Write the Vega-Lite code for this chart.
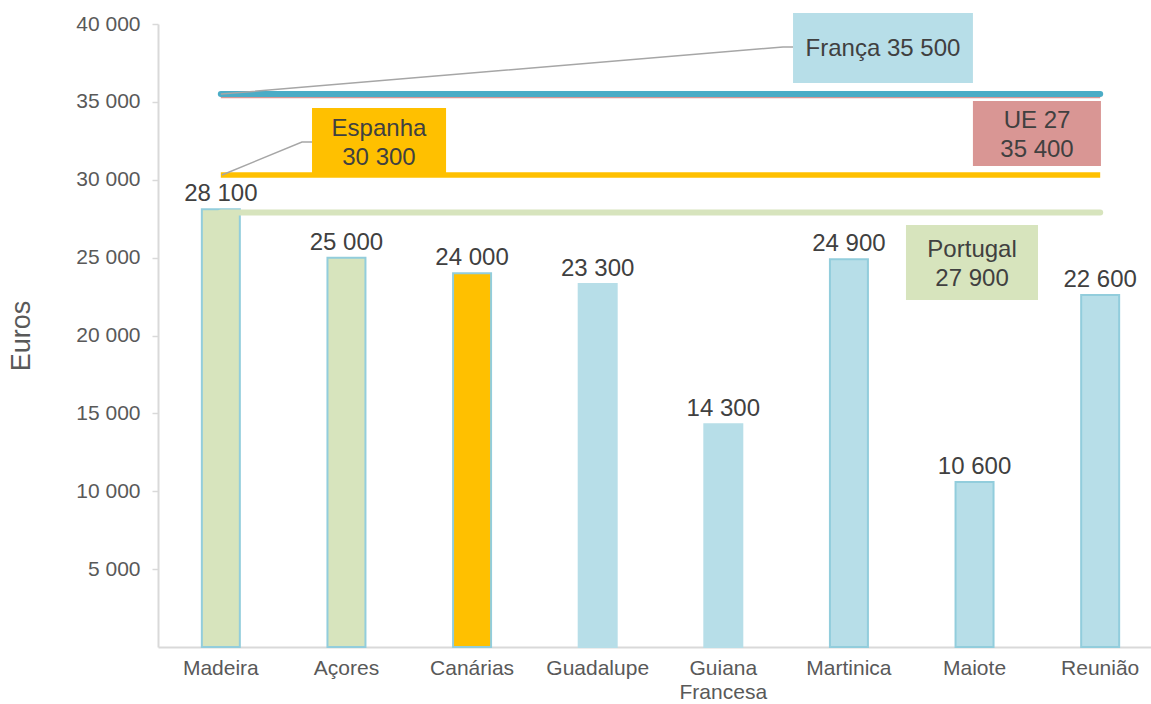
{
  "$schema": "https://vega.github.io/schema/vega-lite/v6.json",
  "width": 990,
  "height": 623,
  "autosize": "none",
  "padding": {"left": 158, "top": 24, "right": 3, "bottom": 57},
  "config": {
    "view": {"stroke": null},
    "font": "Liberation Sans",
    "locale": {"number": {"decimal": ",", "thousands": " ", "grouping": [3], "currency": ["", " €"]}}
  },
  "datasets": {
    "bars": [
      {"regiao": "Madeira", "pais": "Portugal", "valor": 28100},
      {"regiao": "Açores", "pais": "Portugal", "valor": 25000},
      {"regiao": "Canárias", "pais": "Espanha", "valor": 24000},
      {"regiao": "Guadalupe", "pais": "França", "valor": 23300},
      {"regiao": "Guiana Francesa", "pais": "França", "valor": 14300},
      {"regiao": "Martinica", "pais": "França", "valor": 24900},
      {"regiao": "Maiote", "pais": "França", "valor": 10600},
      {"regiao": "Reunião", "pais": "França", "valor": 22600}
    ],
    "refs": [
      {"nome": "UE 27", "valor": 35400, "inicio": 0.5, "fim": 7.5},
      {"nome": "França", "valor": 35500, "inicio": 0.5, "fim": 7.5},
      {"nome": "Espanha", "valor": 30300, "inicio": 0.5, "fim": 7.5},
      {"nome": "Portugal", "valor": 27900, "inicio": 0.5, "fim": 7.5}
    ],
    "caixas": [
      {"nome": "França", "x0": 5.055, "x1": 6.487, "y0": 36212, "y1": 40706, "cx": 5.771, "cy": 38400, "texto": "França 35 500"},
      {"nome": "UE 27", "x0": 6.487, "x1": 7.506, "y0": 30883, "y1": 35056, "cx": 6.997, "cy": 33772, "texto": "UE 27\n35 400"},
      {"nome": "Espanha", "x0": 1.226, "x1": 2.293, "y0": 30241, "y1": 34607, "cx": 1.759, "cy": 33258, "texto": "Espanha\n30 300"},
      {"nome": "Portugal", "x0": 5.954, "x1": 7.005, "y0": 22279, "y1": 27095, "cx": 6.48, "cy": 25490, "texto": "Portugal\n27 900"}
    ],
    "guias": [
      {"grupo": "França", "ordem": 1, "x": 0.5, "y": 35500},
      {"grupo": "França", "ordem": 2, "x": 4.975, "y": 38523},
      {"grupo": "França", "ordem": 3, "x": 5.055, "y": 38523},
      {"grupo": "Espanha", "ordem": 1, "x": 0.509, "y": 30305},
      {"grupo": "Espanha", "ordem": 2, "x": 1.146, "y": 32424},
      {"grupo": "Espanha", "ordem": 3, "x": 1.226, "y": 32424}
    ]
  },
  "layer": [
    {
      "data": {"name": "bars"},
      "encoding": {
        "x": {
          "field": "regiao", "type": "nominal", "sort": null,
          "scale": {"range": [0, 1005], "paddingInner": 0.6975, "paddingOuter": 0.349},
          "axis": {
            "title": null, "labelAngle": 0, "ticks": false,
            "domainColor": "#d9d9d9", "domainWidth": 2,
            "labelColor": "#595959", "labelFontSize": 21, "labelPadding": 10,
            "labelLineHeight": 24,
            "labelExpr": "datum.label == 'Guiana Francesa' ? ['Guiana', 'Francesa'] : datum.label"
          }
        },
        "y": {
          "field": "valor", "type": "quantitative",
          "scale": {"domain": [0, 40000], "nice": false},
          "axis": {
            "values": [5000, 10000, 15000, 20000, 25000, 30000, 35000, 40000],
            "format": ",d", "grid": false,
            "domainColor": "#d9d9d9", "domainWidth": 2,
            "tickColor": "#d9d9d9", "tickSize": 6, "tickWidth": 1.5,
            "labelColor": "#595959", "labelFontSize": 21, "labelPadding": 12,
            "title": "Euros", "titleFontSize": 27, "titleFontWeight": "normal",
            "titleColor": "#595959", "titlePadding": 40
          }
        }
      },
      "layer": [
        {
          "mark": {"type": "bar", "strokeWidth": 2},
          "encoding": {
            "color": {
              "field": "pais", "type": "nominal", "legend": null,
              "scale": {"domain": ["Portugal", "Espanha", "França"], "range": ["#d7e4bd", "#ffc000", "#b7dee8"]}
            },
            "stroke": {
              "condition": {"test": "datum.regiao === 'Guadalupe' || datum.regiao === 'Guiana Francesa'", "value": "#b7dee8"},
              "value": "#92cddc"
            }
          }
        },
        {
          "mark": {"type": "text", "baseline": "alphabetic", "dy": -8, "fontSize": 24, "color": "#404040"},
          "encoding": {"text": {"field": "valor", "type": "quantitative", "format": ",d"}}
        }
      ]
    },
    {
      "layer": [
        {
          "data": {"name": "refs"},
          "transform": [{"filter": "datum.nome === 'UE 27'"}],
          "mark": {"type": "rule", "strokeWidth": 5, "color": "#d99694", "strokeCap": "butt"},
          "encoding": {
            "x": {"field": "inicio", "type": "quantitative", "scale": {"domain": [0, 8], "range": [0, 1005], "nice": false, "zero": false}, "axis": null},
            "x2": {"field": "fim"},
            "y": {"field": "valor", "type": "quantitative", "axis": null}
          }
        },
        {
          "data": {"name": "refs"},
          "transform": [{"filter": "datum.nome === 'França'"}],
          "mark": {"type": "rule", "strokeWidth": 6, "color": "#4bacc6", "strokeCap": "round"},
          "encoding": {
            "x": {"field": "inicio", "type": "quantitative", "scale": {"domain": [0, 8], "range": [0, 1005], "nice": false, "zero": false}, "axis": null},
            "x2": {"field": "fim"},
            "y": {"field": "valor", "type": "quantitative", "axis": null}
          }
        },
        {
          "data": {"name": "refs"},
          "transform": [{"filter": "datum.nome === 'Espanha'"}],
          "mark": {"type": "rule", "strokeWidth": 5.5, "color": "#ffc000", "strokeCap": "butt"},
          "encoding": {
            "x": {"field": "inicio", "type": "quantitative", "scale": {"domain": [0, 8], "range": [0, 1005], "nice": false, "zero": false}, "axis": null},
            "x2": {"field": "fim"},
            "y": {"field": "valor", "type": "quantitative", "axis": null}
          }
        },
        {
          "data": {"name": "refs"},
          "transform": [{"filter": "datum.nome === 'Portugal'"}],
          "mark": {"type": "rule", "strokeWidth": 6, "color": "#d7e4bd", "strokeCap": "round"},
          "encoding": {
            "x": {"field": "inicio", "type": "quantitative", "scale": {"domain": [0, 8], "range": [0, 1005], "nice": false, "zero": false}, "axis": null},
            "x2": {"field": "fim"},
            "y": {"field": "valor", "type": "quantitative", "axis": null}
          }
        },
        {
          "data": {"name": "guias"},
          "mark": {"type": "line", "color": "#a6a6a6", "strokeWidth": 1.5},
          "encoding": {
            "x": {"field": "x", "type": "quantitative", "scale": {"domain": [0, 8], "range": [0, 1005], "nice": false, "zero": false}, "axis": null},
            "y": {"field": "y", "type": "quantitative", "axis": null},
            "detail": {"field": "grupo"},
            "order": {"field": "ordem"}
          }
        },
        {
          "data": {"name": "caixas"},
          "mark": {"type": "rect"},
          "encoding": {
            "x": {"field": "x0", "type": "quantitative", "scale": {"domain": [0, 8], "range": [0, 1005], "nice": false, "zero": false}, "axis": null},
            "x2": {"field": "x1"},
            "y": {"field": "y0", "type": "quantitative", "axis": null},
            "y2": {"field": "y1"},
            "color": {
              "field": "nome", "type": "nominal", "legend": null,
              "scale": {"domain": ["França", "UE 27", "Espanha", "Portugal"], "range": ["#b7dee8", "#d99694", "#ffc000", "#d7e4bd"]}
            }
          }
        },
        {
          "data": {"name": "caixas"},
          "mark": {"type": "text", "fontSize": 24, "color": "#404040", "lineBreak": "\n", "lineHeight": 29, "baseline": "middle", "align": "center"},
          "encoding": {
            "x": {"field": "cx", "type": "quantitative", "scale": {"domain": [0, 8], "range": [0, 1005], "nice": false, "zero": false}, "axis": null},
            "y": {"field": "cy", "type": "quantitative", "axis": null},
            "text": {"field": "texto"}
          }
        }
      ]
    }
  ],
  "resolve": {"scale": {"x": "independent", "color": "independent"}, "axis": {"y": "independent"}}
}
